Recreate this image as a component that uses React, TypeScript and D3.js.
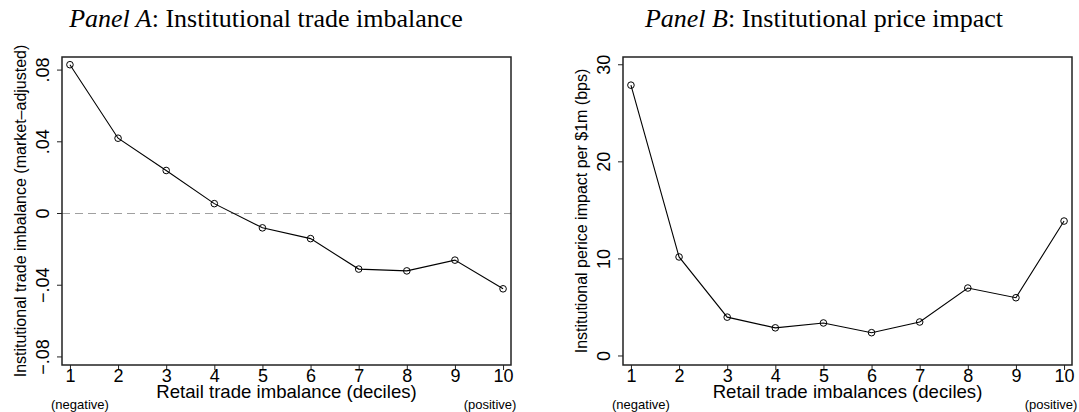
import React, { useEffect, useRef } from "react";
import * as d3 from "d3";

const deciles = [1, 2, 3, 4, 5, 6, 7, 8, 9, 10];
const instImbalance = [0.083, 0.042, 0.024, 0.0055, -0.008, -0.014, -0.031, -0.032, -0.026, -0.042];
const priceImpact = [27.9, 10.2, 4.0, 2.9, 3.4, 2.4, 3.5, 7.0, 6.0, 13.9];
const imbalanceTicks = [-0.08, -0.04, 0, 0.04, 0.08];
const imbalanceTickLabels = ["\u2212.08", "\u2212.04", "0", ".04", ".08"];
const impactTicks = [0, 10, 20, 30];
const impactTickLabels = ["0", "10", "20", "30"];

const SANS = "'Liberation Sans', Arial, Helvetica, sans-serif";
const SERIF = "'Liberation Serif', 'Times New Roman', serif";

type PanelProps = {
  left: number;
  right: number;
  titleX: number;
  titleItalic: string;
  titleRest: string;
  yTitle: string;
  xTitle: string;
  values: number[];
  yDomain: [number, number];
  yTicks: number[];
  yTickLabels: string[];
  zeroLine: boolean;
};

const Panel = (p: PanelProps) => {
  const gRef = useRef<SVGGElement>(null);

  useEffect(() => {
    const top = 57;
    const bottom = 365;
    const g = d3.select(gRef.current);
    g.selectAll("*").remove();

    const x = d3.scaleLinear().domain([0.835, 10.165]).range([p.left, p.right]);
    const y = d3.scaleLinear().domain(p.yDomain).range([bottom, top]);

    // title
    const t = g
      .append("text")
      .attr("x", p.titleX)
      .attr("y", 27)
      .attr("text-anchor", "middle")
      .style("font-family", SERIF)
      .style("font-size", "26px");
    t.append("tspan").style("font-style", "italic").text(p.titleItalic);
    t.append("tspan").text(p.titleRest);

    // zero reference line
    if (p.zeroLine) {
      g.append("line")
        .attr("x1", p.left)
        .attr("x2", p.right)
        .attr("y1", y(0))
        .attr("y2", y(0))
        .attr("stroke", "#a0a0a0")
        .attr("stroke-width", 1.2)
        .attr("stroke-dasharray", "8,5");
    }

    // frame
    g.append("rect")
      .attr("x", p.left)
      .attr("y", top)
      .attr("width", p.right - p.left)
      .attr("height", bottom - top)
      .attr("fill", "none")
      .attr("stroke", "#222")
      .attr("stroke-width", 1.5);

    // y axis
    const yAxis = g
      .append("g")
      .attr("transform", `translate(${p.left},0)`)
      .call(
        d3
          .axisLeft(y)
          .tickValues(p.yTicks)
          .tickSize(5)
          .tickFormat((_, i) => p.yTickLabels[i])
      );
    yAxis.select(".domain").remove();
    yAxis.selectAll("line").attr("stroke", "#222");
    yAxis
      .selectAll("text")
      .attr("x", null)
      .attr("dy", null)
      .attr("transform", (d: any) => `translate(-13,${y(d)}) rotate(-90)`)
      .attr("y", 0)
      .attr("text-anchor", "middle")
      .attr("fill", "#000")
      .style("font-family", SANS)
      .style("font-size", "18px");
    yAxis.selectAll(".tick").attr("transform", null);
    yAxis.selectAll(".tick line").attr("y1", (d: any) => y(d)).attr("y2", (d: any) => y(d));

    // x axis
    const xAxis = g
      .append("g")
      .attr("transform", `translate(0,${bottom})`)
      .call(d3.axisBottom(x).tickValues(deciles).tickSize(5).tickFormat(d3.format("d")));
    xAxis.select(".domain").remove();
    xAxis.selectAll("line").attr("stroke", "#222");
    xAxis
      .selectAll("text")
      .attr("y", 17)
      .attr("dy", null)
      .attr("fill", "#000")
      .style("font-family", SANS)
      .style("font-size", "18px");

    // axis titles
    g.append("text")
      .attr("transform", `translate(${p.left - 36},${(top + bottom) / 2}) rotate(-90)`)
      .attr("text-anchor", "middle")
      .style("font-family", SANS)
      .style("font-size", "16px")
      .text(p.yTitle);

    g.append("text")
      .attr("x", (p.left + p.right) / 2)
      .attr("y", 398)
      .attr("text-anchor", "middle")
      .style("font-family", SANS)
      .style("font-size", "18.6px")
      .text(p.xTitle);

    g.append("text")
      .attr("x", x(1) + 10)
      .attr("y", 409)
      .attr("text-anchor", "middle")
      .style("font-family", SANS)
      .style("font-size", "13px")
      .text("(negative)");

    g.append("text")
      .attr("x", x(10) - 13)
      .attr("y", 409)
      .attr("text-anchor", "middle")
      .style("font-family", SANS)
      .style("font-size", "13px")
      .text("(positive)");

    // series
    const line = d3
      .line<number>()
      .x((_, i) => x(deciles[i]))
      .y((d) => y(d));
    g.append("path")
      .datum(p.values)
      .attr("d", line)
      .attr("fill", "none")
      .attr("stroke", "#000")
      .attr("stroke-width", 1.1);

    g.selectAll("circle.pt")
      .data(p.values)
      .enter()
      .append("circle")
      .attr("class", "pt")
      .attr("cx", (_, i) => x(deciles[i]))
      .attr("cy", (d) => y(d))
      .attr("r", 3.3)
      .attr("fill", "none")
      .attr("stroke", "#000")
      .attr("stroke-width", 1);
  }, [p]);

  return <g ref={gRef}></g>;
};

const App = () => {
  return (
    <svg
      width={1079}
      height={412}
      style={{ position: "absolute", left: 0, top: 0, background: "#fff" }}
    >
      <Panel
        left={62}
        right={511}
        titleX={266}
        titleItalic="Panel A"
        titleRest=": Institutional trade imbalance"
        yTitle="Institutional trade imbalance (market–adjusted)"
        xTitle="Retail trade imbalance (deciles)"
        values={instImbalance}
        yDomain={[-0.0845, 0.0873]}
        yTicks={imbalanceTicks}
        yTickLabels={imbalanceTickLabels}
        zeroLine={true}
      />
      <Panel
        left={623}
        right={1072}
        titleX={824}
        titleItalic="Panel B"
        titleRest=": Institutional price impact"
        yTitle="Institutional perice impact per $1m (bps)"
        xTitle="Retail trade imbalances (deciles)"
        values={priceImpact}
        yDomain={[-0.93, 30.8]}
        yTicks={impactTicks}
        yTickLabels={impactTickLabels}
        zeroLine={false}
      />
    </svg>
  );
};

export default App;
